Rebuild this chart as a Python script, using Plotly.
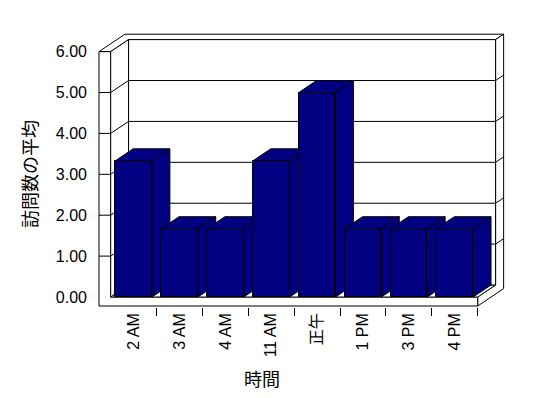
import plotly.graph_objects as go

# ---------------- data ----------------
categories = ["2 AM", "3 AM", "4 AM", "11 AM", "正午", "1 PM", "3 PM", "4 PM"]
avg_visits = [3.33, 1.67, 1.67, 3.33, 5.0, 1.67, 1.67, 1.67]
y_tick_values = [0, 1, 2, 3, 4, 5, 6]
y_tick_labels = ["0.00", "1.00", "2.00", "3.00", "4.00", "5.00", "6.00"]
x_title = "時間"
y_title = "訪問数の平均"

# ---------------- geometry / style ----------------
W, H = 548, 398
BAR_COLOR = "#000080"
LINE = dict(color="black", width=1)
BAR_W = 0.8
DX, DY = 0.39, 0.293      # depth offset (data units) for one unit of depth
BACK = 1.45               # outer depth of back wall (in depth units)
WALL = 0.255              # left wall thickness (x units)
FLOOR = 0.22              # floor thickness (y units)
YMAX = y_tick_values[-1]

# pixel anchors of the front plane
SX, SY = 45.875, 40.9     # px per unit
X0PX, Y0PX = 110.7, 297.0  # pixel of x=-0.5 and y=0
ML, MR, MT, MB = 98, 43, 33, 91

n = len(categories)
x0, x1 = -0.5, n - 0.5
xr = [x0 - (X0PX - ML) / SX, x0 - (X0PX - ML) / SX + (W - ML - MR) / SX]
yr = [-((H - MB) - Y0PX) / SY, (Y0PX - MT) / SY]


def P(x, y, t):
    return (x + t * DX, y + t * DY)


def path(pts, close=True):
    s = "M " + " L ".join(f"{x:.4f},{y:.4f}" for x, y in pts)
    return s + (" Z" if close else "")


shapes = []


def poly(pts, fill="white", close=True):
    shapes.append(dict(type="path", xref="x", yref="y", layer="below",
                       path=path(pts, close),
                       fillcolor=fill if close else None, line=LINE))


# walls & floor
poly([P(x0 - WALL, YMAX, 0), P(x0, YMAX, 0), P(x0, YMAX, 1), P(x1, YMAX, 1),
      P(x1, YMAX, BACK), P(x0 - WALL, YMAX, BACK)])
poly([P(x1, -FLOOR, 0), P(x1, 0, 0), P(x1, 0, 1), P(x1, YMAX, 1),
      P(x1, YMAX, BACK), P(x1, -FLOOR, BACK)])
poly([P(x0 - WALL, YMAX, 0), P(x0, YMAX, 0), P(x0, 0, 0), P(x1, 0, 0),
      P(x1, -FLOOR, 0), P(x0 - WALL, -FLOOR, 0)])
poly([P(x0, 0, 0), P(x0, YMAX, 0), P(x0, YMAX, 1), P(x0, 0, 1)])
poly([P(x0, 0, 0), P(x1, 0, 0), P(x1, 0, 1), P(x0, 0, 1)])
poly([P(x0, 0, 1), P(x1, 0, 1), P(x1, YMAX, 1), P(x0, YMAX, 1)])

# gridlines + front ticks
for v in y_tick_values[1:-1]:
    poly([P(x0, v, 0), P(x0, v, 1), P(x1, v, 1), P(x1, v, BACK)], close=False)
for v in y_tick_values[1:]:
    poly([P(x0 - WALL, v, 0), P(x0, v, 0)], close=False)

# bar sides and tops
for i, v in enumerate(avg_visits):
    a, b = i - BAR_W / 2, i + BAR_W / 2
    poly([P(b, 0, 0), P(b, 0, 1), P(b, v, 1), P(b, v, 0)], fill=BAR_COLOR)
    poly([P(a, v, 0), P(b, v, 0), P(b, v, 1), P(a, v, 1)], fill=BAR_COLOR)

fig = go.Figure(go.Bar(
    x=list(range(n)), y=avg_visits, width=BAR_W,
    marker=dict(color=BAR_COLOR, line=LINE), hoverinfo="skip"))

FONT_LAT = "Liberation Sans, Arial, Noto Sans CJK JP, sans-serif"
FONT_CJK = "Noto Sans CJK JP, sans-serif"
pw, ph = W - ML - MR, H - MT - MB

fig.update_layout(
    width=W, height=H, margin=dict(l=ML, r=MR, t=MT, b=MB, pad=0),
    paper_bgcolor="white", plot_bgcolor="white", showlegend=False,
    shapes=shapes, bargap=0,
    xaxis=dict(range=xr, tickmode="array", tickvals=list(range(n)),
               ticktext=categories, tickangle=-90, ticks="",
               showgrid=False, zeroline=False, showline=False,
               ticklabelstandoff=2,
               tickfont=dict(family=FONT_LAT, size=16, color="black"),
               minor=dict(tickmode="array",
                          tickvals=[i + 0.5 for i in range(n)],
                          ticks="outside", ticklen=8, tickcolor="black",
                          tickwidth=1, showgrid=False)),
    yaxis=dict(range=yr, tickmode="array", tickvals=y_tick_values,
               ticktext=y_tick_labels, ticks="", showgrid=False,
               zeroline=False, showline=False, ticklabelstandoff=10,
               tickfont=dict(family=FONT_LAT, size=16, color="black")),
    annotations=[
        dict(text=y_title, xref="paper", yref="paper",
             x=(29 - ML) / pw, y=(H - MB - 174) / ph, textangle=-90,
             showarrow=False, xanchor="center", yanchor="middle",
             font=dict(family=FONT_CJK, size=18, color="black")),
        dict(text=x_title, xref="paper", yref="paper",
             x=(262 - ML) / pw, y=(H - MB - 378) / ph,
             showarrow=False, xanchor="center", yanchor="middle",
             font=dict(family=FONT_CJK, size=18, color="black")),
    ],
)

fig.write_html("out.html")
